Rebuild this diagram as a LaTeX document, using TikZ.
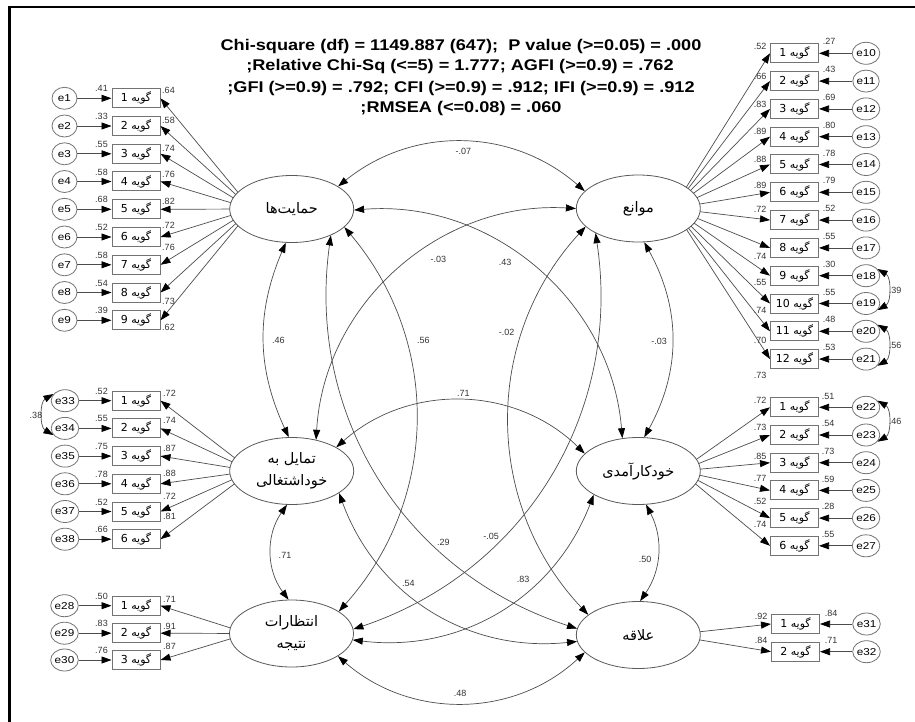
\documentclass[tikz,border=0pt]{standalone}
\usepackage{fontspec}
\setmainfont{Liberation Sans}
\newfontfamily\fa[Script=Arabic]{DejaVu Sans}
\TeXXeTstate=1
\usetikzlibrary{shapes.geometric,arrows.meta}
\newcommand\wide[1]{\scalebox{1.17}[1]{#1}}
\tikzset{
  lat/.style={ellipse, draw=black!65, line width=0.8pt, minimum width=124pt, minimum height=67pt, inner sep=0pt, align=center, font=\fa\fontsize{14.5}{22}\selectfont},
  ind/.style={rectangle, draw=black!55, line width=1pt, minimum width=48pt, minimum height=19pt, inner sep=0pt, font=\fa\fontsize{11}{12}\selectfont},
  err/.style={ellipse, draw=black!55, line width=0.8pt, minimum width=25pt, minimum height=22pt, inner sep=0pt, font=\fontsize{10}{11}\selectfont},
  lab/.style={inner sep=0pt, font=\fontsize{9}{11}\selectfont, text=black!80},
  ttl/.style={inner sep=0pt, anchor=base, font=\bfseries\fontsize{15.5}{18}\selectfont},
  Tri/.tip={Triangle[length=10pt,width=7pt,color=black]},
  arr/.style={-Tri, draw=black!70, line width=0.7pt},
  cov/.style={Tri-Tri, draw=black!70, line width=0.7pt},
}
\begin{document}
\begin{tikzpicture}[x=1pt,y=1pt]
\useasboundingbox (0,0) rectangle (915,-722);
\draw[line width=2.2pt] (9.5,-722) -- (9.5,-7) -- (915,-7);

% title
\node[ttl] (t1) at (461,-50.4) {\wide{Chi-square (df) = 1149.887 (647);\ \ P value (>=0.05) = .000}};
\node[ttl] (t2) at (460,-70.4) {\wide{;Relative Chi-Sq (<=5) = 1.777; AGFI (>=0.9) = .762}};
\node[ttl] (t3) at (461,-92.6) {\wide{;GFI (>=0.9) = .792; CFI (>=0.9) = .912; IFI (>=0.9) = .912}};
\node[ttl] (t4) at (461,-112.7) {\wide{;RMSEA (<=0.08) = .060}};

% latent variables
\node[lat] (A) at (291.7,-209) {\beginR حمایت^^^^200cها\endR};
\node[lat] (B) at (638.3,-208.5) {\beginR موانع\endR};
\node[lat] (C) at (291.7,-471) {\beginR تمایل به\endR\\\beginR خوداشتغالی\endR};
\node[lat] (D) at (638.3,-471) {\beginR خودکارآمدی\endR};
\node[lat] (E) at (291.5,-633.5) {\beginR انتظارات\endR\\\beginR نتیجه\endR};
\node[lat] (F) at (638.3,-635) {\beginR علاقه\endR};
% aim points of the loading paths (inside the ellipses)
\coordinate (Aaim) at (251.7,-209);
\coordinate (Baim) at (673,-208.5);
\coordinate (Caim) at (251.7,-471);
\coordinate (Daim) at (680,-471);
\coordinate (Eaim) at (248,-633.5);
\coordinate (Faim) at (670,-635);

% left group 1
\foreach \i/\e/\y/\rv/\lv/\ly in {1/1/98.3/.41/.64/90.7, 2/2/126/.33/.58/120.7, 3/3/153.8/.55/.74/148.3, 4/4/181.5/.58/.76/174, 5/5/209.3/.68/.82/201, 6/6/237/.52/.72/225, 7/7/264.8/.58/.76/247.3, 8/8/292.5/.54/.73/301, 9/9/320.3/.39/.62/327.7}{
  \node[ind] (a\i) at (136,-\y) {\beginR گویه \i\endR};
  \node[err] (ea\i) at (64.5,-\y) {\wide{e\e}};
  \draw[arr] (ea\i) -- (a\i);
  \node[lab] at (101.5,-\y+9.5) {\rv};
  \node[lab] at (168.5,-\ly) {\lv};
}
% left group 2
\foreach \i/\e/\y/\rv/\lv/\ly in {1/33/400.7/.52/.72/393.3, 2/34/428.4/.55/.74/420.7, 3/35/456.1/.75/.87/448.3, 4/36/483.8/.78/.88/473.3, 5/37/511.5/.52/.72/496, 6/38/539.2/.66/.81/516.7}{
  \node[ind] (c\i) at (136,-\y) {\beginR گویه \i\endR};
  \node[err] (ec\i) at (65,-\y) {\wide{e\e}};
  \draw[arr] (ec\i) -- (c\i);
  \node[lab] at (101.5,-\y+9.5) {\rv};
  \node[lab] at (169.5,-\ly) {\lv};
}
% left group 3
\foreach \i/\e/\y/\rv/\lv/\ly in {1/28/605.7/.50/.71/599, 2/29/633.2/.83/.91/626, 3/30/660/.76/.87/646.7}{
  \node[ind] (g\i) at (136,-\y) {\beginR گویه \i\endR};
  \node[err] (eg\i) at (64.5,-\y) {\wide{e\e}};
  \draw[arr] (eg\i) -- (g\i);
  \node[lab] at (101.5,-\y+9.5) {\rv};
  \node[lab] at (169.5,-\ly) {\lv};
}
% right group 1
\foreach \i/\e/\y/\rv/\lv/\ly in {1/10/53.3/.27/.52/46.7, 2/11/81.1/.43/.66/76, 3/12/108.9/.69/.83/104, 4/13/136.7/.80/.89/131.7, 5/14/164.5/.78/.88/159.3, 6/15/192.3/.79/.89/185.5, 7/16/220.1/.52/.72/209.3, 8/17/247.9/.55/.74/256, 9/18/275.7/.30/.55/282, 10/19/303.5/.55/.74/310.5, 11/20/331.3/.48/.70/340.5, 12/21/359.1/.53/.73/375}{
  \node[ind] (b\i) at (794.5,-\y) {\beginR گویه \i\endR};
  \node[err] (eb\i) at (866,-\y) {\wide{e\e}};
  \draw[arr] (eb\i) -- (b\i);
  \node[lab] at (829,-\y+11.5) {\rv};
  \node[lab] at (760,-\ly) {\lv};
}
% right group 2
\foreach \i/\e/\y/\rv/\lv/\ly in {1/22/407.3/.51/.72/400.7, 2/23/435/.54/.73/427.3, 3/24/462.7/.73/.85/456, 4/25/490.4/.59/.77/478.3, 5/26/518.1/.28/.52/501, 6/27/545.8/.55/.74/524}{
  \node[ind] (d\i) at (794.5,-\y) {\beginR گویه \i\endR};
  \node[err] (ed\i) at (866,-\y) {\wide{e\e}};
  \draw[arr] (ed\i) -- (d\i);
  \node[lab] at (828,-\y+11.3) {\rv};
  \node[lab] at (760,-\ly) {\lv};
}
% right group 3
\foreach \i/\e/\y/\rv/\lv/\ly in {1/31/624/.84/.92/616, 2/32/651.7/.71/.84/640}{
  \node[ind] (f\i) at (795.5,-\y) {\beginR گویه \i\endR};
  \node[err] (ef\i) at (866.5,-\y) {\wide{e\e}};
  \draw[arr] (ef\i) -- (f\i);
  \node[lab] at (831,-\y+11) {\rv};
  \node[lab] at (761,-\ly) {\lv};
}

% loadings: drawn from the aim point, shown only outside the latent ellipses
\begin{scope}[even odd rule]
\clip (0,0) rectangle (915,-722)
  (291.7,-209) ellipse (62 and 33.5)
  (638.3,-208.5) ellipse (62 and 33.5)
  (291.7,-471) ellipse (62 and 33.5)
  (638.3,-471) ellipse (62 and 33.5)
  (291.5,-633.5) ellipse (62 and 33.5)
  (638.3,-635) ellipse (62 and 33.5);
\foreach \i in {1,...,9} {\draw[arr] (Aaim) -- (a\i.east);}
\foreach \i in {1,...,12} {\draw[arr] (Baim) -- (b\i.west);}
\foreach \i in {1,...,6} {\draw[arr] (Caim) -- (c\i.east);}
\foreach \i in {1,...,6} {\draw[arr] (Daim) -- (d\i.west);}
\foreach \i in {1,...,3} {\draw[arr] (Eaim) -- (g\i.east);}
\foreach \i in {1,2} {\draw[arr] (Faim) -- (f\i.west);}
\end{scope}

% error covariances
\draw[cov] (eb9.30) to[bend left=60] (eb10.-30);
\draw[cov] (eb11.30) to[bend left=60] (eb12.-30);
\draw[cov] (ed1.30) to[bend left=60] (ed2.-30);
\draw[cov] (ec1.150) to[bend right=60] (ec2.210);
\node[lab] at (895,-290) {.39};
\node[lab] at (895,-345) {.56};
\node[lab] at (895,-421) {.46};
\node[lab] at (36,-415) {.38};

% latent covariances
\draw[cov] (A.26) to[bend left=40] (B.162);
\draw[cov] (E.-26) to[bend right=42] (F.-162);
\draw[cov] (C.28) to[bend left=43] (D.162);
\draw[cov] (A.-100) to[bend right=24] (C.95);
\draw[cov] (C.-98) to[bend right=36] (E.95);
\draw[cov] (B.-80) to[bend left=29] (D.80);
\draw[cov] (D.-77) to[bend left=31] (F.87);
\draw[cov] (A.-1) to[bend left=45] (D.116);
\draw[cov] (B.180) to[bend right=45] (C.52);
\draw[cov] (A.-19) to[bend left=41] (E.25);
\draw[cov] (B.-161) to[bend right=43] (F.158);
\draw[cov] (A.-34) to[bend right=40] (F.174);
\draw[cov] (B.-150) to[bend left=40] (E.4);
\draw[cov] (C.-25) to[bend right=38] (F.-174);
\draw[cov] (D.-152) to[bend left=38] (E.-6.5);

\node[lab] at (463.3,-151.7) {-.07};
\node[lab] at (460,-693.3) {.48};
\node[lab] at (463.3,-393.3) {.71};
\node[lab] at (278.3,-340.7) {.46};
\node[lab] at (285,-555) {.71};
\node[lab] at (659,-341) {-.03};
\node[lab] at (645,-559.3) {.50};
\node[lab] at (505,-262.7) {.43};
\node[lab] at (438.3,-259.3) {-.03};
\node[lab] at (423.3,-340.7) {.56};
\node[lab] at (506.7,-332.5) {-.02};
\node[lab] at (443.3,-542) {.29};
\node[lab] at (491,-536.7) {-.05};
\node[lab] at (408.3,-583) {.54};
\node[lab] at (523,-579) {.83};
\end{tikzpicture}
\end{document}
